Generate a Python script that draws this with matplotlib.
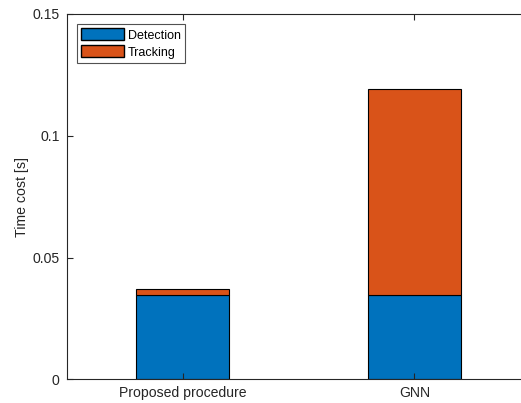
import numpy as np
import matplotlib.pyplot as plt
from matplotlib.patches import Patch

plt.rcParams['font.family'] = ['Liberation Sans', 'DejaVu Sans']

# data
categories = ['Proposed procedure', 'GNN']
detection = [0.0347, 0.0347]
tracking = [0.0023, 0.0844]
series_names = ['Detection', 'Tracking']
yticks = [0, 0.05, 0.1, 0.15]
ytick_labels = ['0', '0.05', '0.1', '0.15']

blue = '#0072BD'
orange = '#D95319'
axcol = '#262626'

fig = plt.figure(figsize=(5.21, 4.03), dpi=100)
ax = fig.add_axes([0.128, 0.0588, 0.890, 0.9065])

x = np.arange(1, len(categories) + 1)
ax.bar(x, detection, width=0.4, color=blue, edgecolor='black', linewidth=0.8)
ax.bar(x, tracking, width=0.4, bottom=detection, color=orange,
       edgecolor='black', linewidth=0.8)

ax.set_xlim(0.5, 2.5)
ax.set_ylim(0, 0.15)
ax.set_xticks(x)
ax.set_xticklabels(categories)
ax.set_yticks(yticks)
ax.set_yticklabels(ytick_labels)
ax.set_ylabel('Time cost [s]', fontsize=10.2, color=axcol, labelpad=2.5)

ax.tick_params(direction='in', top=True, right=True, length=4, width=0.8,
               colors=axcol, labelsize=10.1, pad=5)
for s in ax.spines.values():
    s.set_color(axcol)
    s.set_linewidth(0.8)

handles = [Patch(facecolor=blue, edgecolor='black', label=series_names[0]),
           Patch(facecolor=orange, edgecolor='black', label=series_names[1])]
leg = ax.legend(handles=handles, loc='upper left', fontsize=9,
                frameon=True, fancybox=False, edgecolor=axcol,
                handlelength=3.45, handleheight=1.1, handletextpad=0.3,
                borderpad=0.35, labelspacing=0.3, borderaxespad=0.8)
leg.get_frame().set_linewidth(0.8)

fig.savefig('out.png', dpi=100)
